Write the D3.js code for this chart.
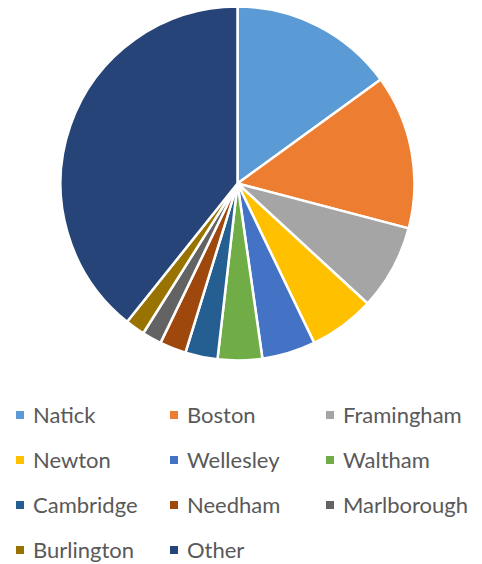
<!DOCTYPE html>
<html>
<head>
<meta charset="utf-8">
<script src="https://cdn.jsdelivr.net/npm/d3@7"></script>
<style>
html, body { margin: 0; padding: 0; background: #fff; }
svg { display: block; }
</style>
</head>
<body>
<svg id="chart" width="482" height="564"></svg>
<script>
// Data (values in share of the whole)
const categories = ["Natick", "Boston", "Framingham", "Newton", "Wellesley", "Waltham",
                    "Cambridge", "Needham", "Marlborough", "Burlington", "Other"];
const values = [54.0, 50.7, 28.0, 21.6, 17.6, 14.6, 10.6, 8.7, 6.4, 6.4, 141.4];
const colors = ["#5B9BD5", "#ED7D31", "#A5A5A5", "#FFC000", "#4472C4", "#70AD47",
                "#255E91", "#9E480E", "#636363", "#997300", "#264478"];

const svg = d3.select("#chart");
const cx = 237.5, cy = 183.5, r = 177;

const data = categories.map((c, i) => ({ name: c, value: values[i], color: colors[i] }));

const pie = d3.pie().value(d => d.value).sort(null);
const arc = d3.arc().innerRadius(0).outerRadius(r);

svg.append("g")
  .attr("transform", `translate(${cx},${cy})`)
  .selectAll("path")
  .data(pie(data))
  .join("path")
  .attr("d", arc)
  .attr("fill", d => d.data.color)
  .attr("stroke", "#fff")
  .attr("stroke-width", 2.5)
  .attr("stroke-linejoin", "round");

// Legend
const colX = d3.scaleOrdinal().domain([0, 1, 2]).range([16, 170, 326]);
const rowY = d3.scaleLinear().domain([0, 1]).range([415, 460]);

const leg = svg.append("g")
  .selectAll("g")
  .data(data)
  .join("g")
  .attr("transform", (d, i) => `translate(${colX(i % 3)},${rowY(Math.floor(i / 3))})`);

leg.append("rect")
  .attr("x", 0).attr("y", -4)
  .attr("width", 8).attr("height", 8)
  .attr("fill", d => d.color);

leg.append("text")
  .attr("x", 17)
  .attr("y", 7.5)
  .attr("font-family", "Lato, 'Open Sans', sans-serif")
  .attr("font-size", 22)
  .attr("fill", "#595959")
  .text(d => d.name);
</script>
</body>
</html>
